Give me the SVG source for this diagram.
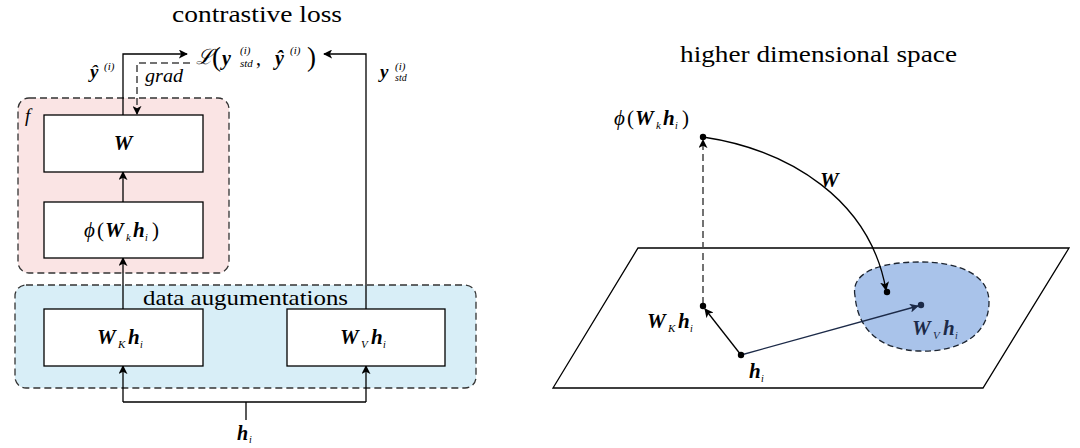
<svg xmlns="http://www.w3.org/2000/svg" width="1080" height="448" viewBox="0 0 1080 448">
<style>
.t{font-family:"Liberation Serif","Times New Roman",Times,"DejaVu Serif",serif;fill:#000}
.m{font-family:"Liberation Serif","Times New Roman",Times,"DejaVu Serif",serif;font-style:italic;font-weight:bold;fill:#000}
.s{font-family:"Liberation Serif","Times New Roman",Times,"DejaVu Serif",serif;font-style:italic;fill:#000}
.box{fill:#fff;stroke:#000;stroke-width:1.3}
.ln{fill:none;stroke:#000;stroke-width:1.3}
.dash{fill:none;stroke:#444;stroke-width:1.5;stroke-dasharray:7,4}
</style>
<defs>
<marker id="ah" viewBox="0 0 10 10" refX="9" refY="5" markerWidth="9" markerHeight="9" markerUnits="userSpaceOnUse" orient="auto">
<path d="M0,0 L10,5 L0,10 L2.5,5 z" fill="#000"/>
</marker>
<marker id="ahn" viewBox="0 0 10 10" refX="9" refY="5" markerWidth="9" markerHeight="9" markerUnits="userSpaceOnUse" orient="auto">
<path d="M0,0 L10,5 L0,10 L2.5,5 z" fill="#1c2a48"/>
</marker>
</defs>
<rect width="1080" height="448" fill="#fff"/>

<text class="t" x="172" y="22" font-size="24" textLength="170" lengthAdjust="spacingAndGlyphs">contrastive loss</text>
<text class="t" x="680" y="62" font-size="23" textLength="277" lengthAdjust="spacingAndGlyphs">higher dimensional space</text>

<g id="f-group">
<rect x="18" y="98" width="211" height="175" rx="11" fill="#fae4e4" stroke="#333" stroke-width="1.3" stroke-dasharray="7,4"/>
<text class="s" x="25" y="122" font-size="19">f</text>
</g>
<g id="aug-group">
<rect x="15" y="285" width="461" height="103" rx="11" fill="#d8eef7" stroke="#333" stroke-width="1.3" stroke-dasharray="7,4"/>
<text class="t" x="143" y="305" font-size="22" textLength="205" lengthAdjust="spacingAndGlyphs">data augumentations</text>
</g>

<g id="connectors">
<path class="ln" d="M123,115 V54 H187" marker-end="url(#ah)"/>
<path class="dash" d="M190,63 H137 V114" marker-end="url(#ah)"/>
<path class="ln" d="M366,309 V54 H324" marker-end="url(#ah)"/>
<path class="ln" d="M123,202 V172" marker-end="url(#ah)"/>
<path class="ln" d="M123,309 V258" marker-end="url(#ah)"/>
<path class="ln" d="M246,420 V402"/>
<path class="ln" d="M123,402 H366"/>
<path class="ln" d="M123,402 V366" marker-end="url(#ah)"/>
<path class="ln" d="M366,402 V366" marker-end="url(#ah)"/>
</g>

<g id="loss">
<text class="s" x="196" y="64" font-size="21">ℒ</text>
<text class="t" x="212" y="66" font-size="27">(</text>
<text class="m" x="222" y="65" font-size="20">y</text>
<text class="s" x="240" y="54" font-size="11">(i)</text>
<text class="s" x="240" y="67" font-size="11">std</text>
<text class="t" x="256" y="65" font-size="20">,</text>
<text class="m" x="275" y="65" font-size="20">ŷ</text>
<text class="s" x="290" y="54" font-size="11">(i)</text>
<text class="t" x="307" y="66" font-size="27">)</text>
</g>
<g id="labels-left">
<text class="m" x="90" y="78" font-size="19">ŷ</text>
<text class="s" x="104" y="70" font-size="11">(i)</text>
<text class="s" x="145" y="82" font-size="18" textLength="38" lengthAdjust="spacingAndGlyphs">grad</text>
<text class="m" x="380" y="78" font-size="19">y</text>
<text class="s" x="395" y="70" font-size="11">(i)</text>
<text class="s" x="395" y="81" font-size="10">std</text>
<text class="m" x="237" y="440" font-size="20">h</text>
<text class="s" x="249" y="443" font-size="10">i</text>
</g>

<g id="node-W">
<rect class="box" x="44" y="115" width="159" height="57"/>
<text class="m" x="123" y="150" font-size="21" text-anchor="middle">W</text>
</g>
<g id="node-phi">
<rect class="box" x="44" y="202" width="159" height="56"/>
<text class="s" x="84" y="237" font-size="21">ϕ</text>
<text class="t" x="97" y="237" font-size="21">(</text>
<text class="m" x="105" y="237" font-size="21">W</text>
<text class="s" x="126" y="241" font-size="11">k</text>
<text class="m" x="133" y="237" font-size="21">h</text>
<text class="s" x="145" y="241" font-size="10">i</text>
<text class="t" x="152" y="237" font-size="21">)</text>
</g>
<g id="node-WK">
<rect class="box" x="44" y="309" width="159" height="57"/>
<text class="m" x="97" y="344" font-size="21">W</text>
<text class="s" x="118" y="348" font-size="11">K</text>
<text class="m" x="128" y="344" font-size="21">h</text>
<text class="s" x="140" y="348" font-size="10">i</text>
</g>
<g id="node-WV">
<rect class="box" x="287" y="309" width="158" height="57"/>
<text class="m" x="340" y="344" font-size="21">W</text>
<text class="s" x="361" y="348" font-size="11">V</text>
<text class="m" x="371" y="344" font-size="21">h</text>
<text class="s" x="383" y="348" font-size="10">i</text>
</g>

<g id="plane">
<path d="M638,248 H1069 L983,388 H553 Z" fill="#fff" stroke="#000" stroke-width="1.3"/>
</g>
<g id="region">
<path d="M855,296 C850,270 885,262 920,262 C960,262 989,275 989,302 C989,335 960,352 920,351 C880,350 858,330 855,296 Z" fill="#a9c3ea" stroke="#1c2430" stroke-width="1.3" stroke-dasharray="6,3.5"/>
</g>

<g id="connectors-right">
<path class="dash" d="M703,304 V140" marker-end="url(#ah)"/>
<path d="M703,137 C790,150 870,200 886,290" fill="none" stroke="#000" stroke-width="1.3" marker-end="url(#ah)"/>
<path class="ln" d="M741,355 L705,309" marker-end="url(#ah)"/>
<path d="M741,355 L918,306" fill="none" stroke="#1c2a48" stroke-width="1.3" marker-end="url(#ahn)"/>
</g>

<g id="points">
<circle cx="703" cy="137" r="3.2" fill="#000"/>
<circle cx="703" cy="306" r="3.2" fill="#000"/>
<circle cx="741" cy="355" r="3.2" fill="#000"/>
<circle cx="887" cy="292" r="3.2" fill="#000"/>
<circle cx="921" cy="305" r="3.2" fill="#1c2a48"/>
</g>

<g id="labels-right">
<text class="s" x="614" y="125" font-size="21">ϕ</text>
<text class="t" x="627" y="125" font-size="21">(</text>
<text class="m" x="635" y="125" font-size="21">W</text>
<text class="s" x="656" y="129" font-size="11">k</text>
<text class="m" x="663" y="125" font-size="21">h</text>
<text class="s" x="675" y="129" font-size="10">i</text>
<text class="t" x="682" y="125" font-size="21">)</text>
<text class="m" x="820" y="187" font-size="21">W</text>
<text class="m" x="647" y="328" font-size="21">W</text>
<text class="s" x="668" y="332" font-size="11">K</text>
<text class="m" x="678" y="328" font-size="21">h</text>
<text class="s" x="690" y="332" font-size="10">i</text>
<text class="m" x="749" y="378" font-size="21">h</text>
<text class="s" x="761" y="382" font-size="10">i</text>
<text class="m" x="912" y="335" font-size="21" style="fill:#1c2a48">W</text>
<text class="s" x="933" y="339" font-size="11" style="fill:#1c2a48">V</text>
<text class="m" x="943" y="335" font-size="21" style="fill:#1c2a48">h</text>
<text class="s" x="955" y="339" font-size="10" style="fill:#1c2a48">i</text>
</g>
</svg>
